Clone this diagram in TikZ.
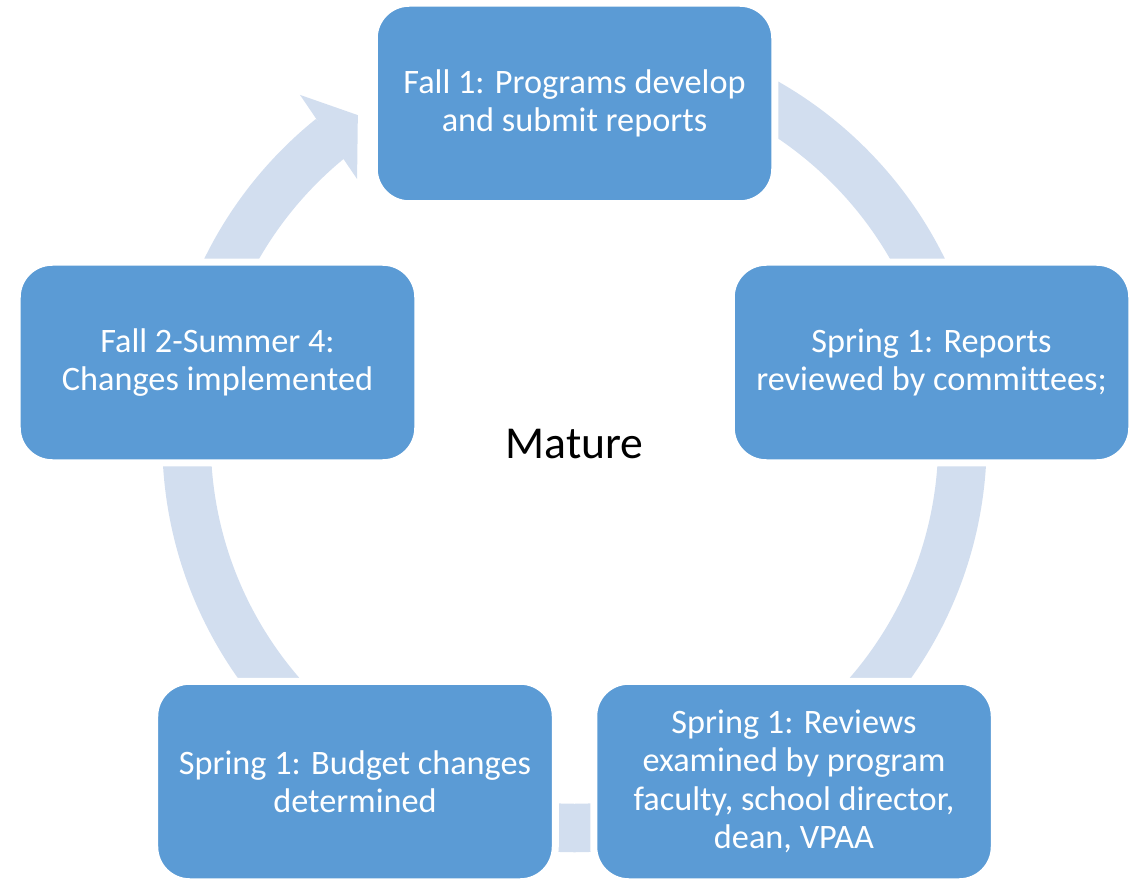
\documentclass[tikz,border=0pt]{standalone}
\usepackage{fontspec}
\setmainfont{Carlito}[Ligatures=NoCommon]
\usepackage{tikz}
\usetikzlibrary{positioning}
\definecolor{boxFill}{RGB}{91, 155, 213}
\definecolor{ringFill}{RGB}{210, 222, 239}
\definecolor{hubText}{RGB}{0, 0, 0}
\tikzset{
    cycle_box/.style={
        draw=white,
        line width=1.4mm,
        fill=boxFill,
        text=white,
        rounded corners=7mm,
        minimum width=8.01cm,
        minimum height=4.01cm,
        align=center,
        font=\fontsize{19.5}{21.9}\selectfont
    },
    cycle_ring/.style={
        draw=ringFill,
        line width=9.7mm
    },
    cycle_head/.style={
        fill=ringFill
    },
    hub_label/.style={
        text=hubText,
        font=\fontsize{26}{31}\selectfont
    }
}

\begin{document}
\begin{tikzpicture}[x=0.2mm, y=0.2mm]
    \useasboundingbox (0,0) rectangle (1140,878);
    \coordinate (hub) at (574.5,438);

    \draw[cycle_ring] ([shift={(90:388)}]hub) arc[start angle=90, end angle=-231.2, radius=388];
    \fill[cycle_head] ([shift={(128.5:441)}]hub) -- ([shift={(123.7:390.5)}]hub)
        -- ([shift={(129.8:339.7)}]hub) -- cycle;

    \node[hub_label] (mature) at (574.5,434) {Mature};

    \node[cycle_box] (fall_one) at (574.5,774.5) {Fall 1: Programs develop\\and submit reports};
    \node[cycle_box] (spring_reports) at (931.5,515.5) {Spring 1: Reports\\reviewed by committees;};
    \node[cycle_box] (spring_reviews) at (794,96.5) {Spring 1: Reviews\\examined by program\\faculty, school director,\\dean, VPAA};
    \node[cycle_box] (spring_budget) at (355,96.5) {Spring 1: Budget changes\\determined};
    \node[cycle_box] (fall_two) at (217.5,515.5) {Fall 2-Summer 4:\\Changes implemented};
\end{tikzpicture}
\end{document}
